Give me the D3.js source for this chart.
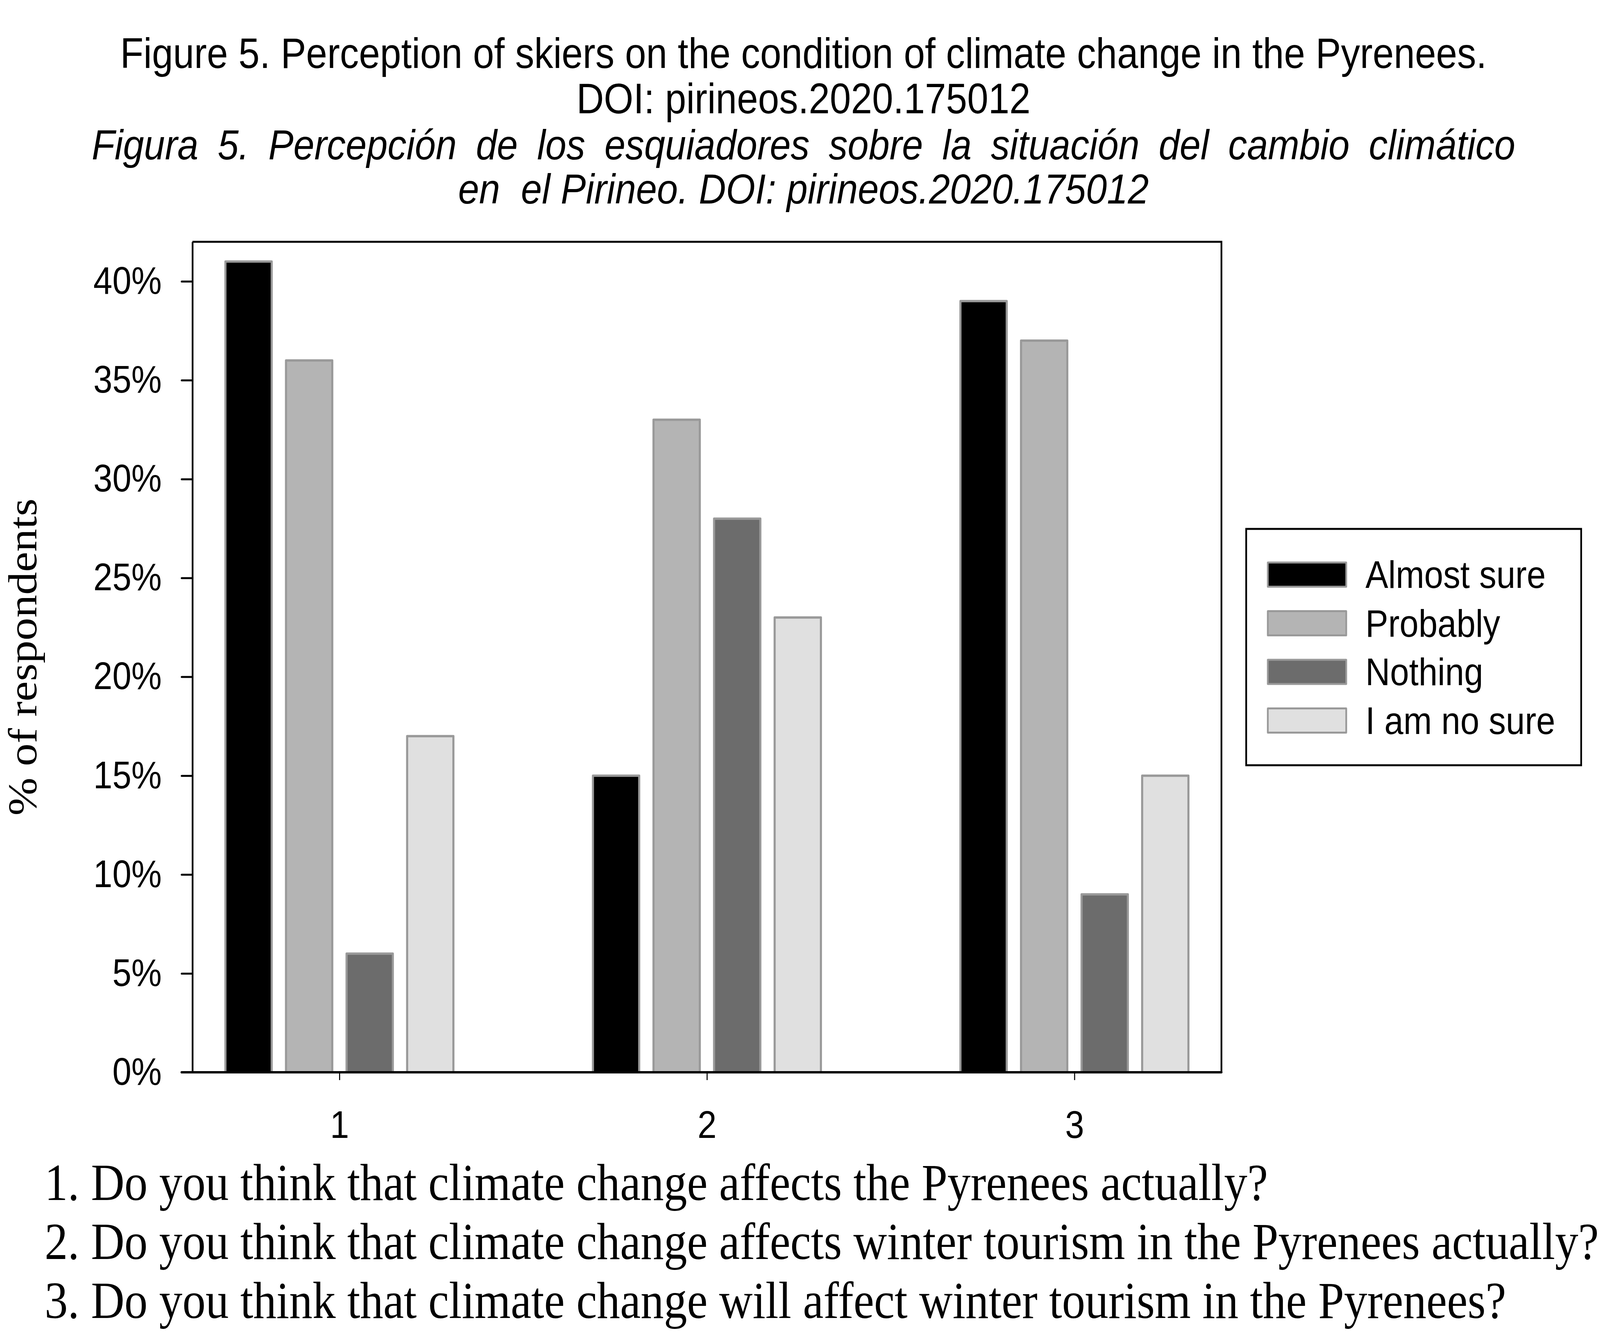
<!DOCTYPE html>
<html lang="en">
<head>
<meta charset="UTF-8">
<title>Figure 5 - Perception of skiers on climate change</title>
<script src="https://d3js.org/d3.v7.min.js"></script>
<style>
html, body {
  margin: 0;
  padding: 0;
  width: 100%;
  height: 100%;
  overflow: hidden;
  background-color: white;
}
#chart svg {
  display: block;
  width: 100vw;
  height: 100vh;
}
.sans {
  font-family: "Liberation Sans", Arial, sans-serif;
  fill: #000;
}
.serif {
  font-family: "Liberation Serif", "Times New Roman", serif;
  fill: #000;
}
</style>
</head>
<body>

<div id="chart"></div>

<script>

// --------------------------------------
// Data
// --------------------------------------

const questions = ["1", "2", "3"];
const series = ["Almost sure", "Probably", "Nothing", "I am no sure"];
const almostSure = [41, 15, 39];
const probably = [36, 33, 37];
const nothing = [6, 28, 9];
const notSure = [17, 23, 15];
const seriesValues = [almostSure, probably, nothing, notSure];
const seriesColors = ["#000000", "#b4b4b4", "#6c6c6c", "#e0e0e0"];
const yTicks = [0, 5, 10, 15, 20, 25, 30, 35, 40];

const titleLines = [
  "Figure 5. Perception of skiers on the condition of climate change in the Pyrenees.",
  "DOI: pirineos.2020.175012"
];
const subtitleLines = [
  "Figura 5. Percepción de los esquiadores sobre la situación del cambio climático",
  "en  el Pirineo. DOI: pirineos.2020.175012"
];
const footnotes = [
  "1. Do you think that climate change affects the Pyrenees actually?",
  "2. Do you think that climate change affects winter tourism in the Pyrenees actually?",
  "3. Do you think that climate change will affect winter tourism in the Pyrenees?"
];

// --------------------------------------
// Size and plot area
// --------------------------------------

const totalWidth = 4590;
const totalHeight = 3415;
const plot = {left: 552, right: 3504, top: 619, bottom: 2745};

// the window can come out narrower than asked, so the drawing is
// laid out in 4590x3415 units and stretched to whatever the window is
const svg = d3.select("#chart")
  .append("svg")
  .attr("viewBox", `0 0 ${totalWidth} ${totalHeight}`)
  .attr("preserveAspectRatio", "none");

// --------------------------------------
// Scales
// --------------------------------------

const x = d3.scalePoint()
  .domain(questions)
  .range([plot.left, plot.right])
  .padding(0.4);

const xInner = d3.scaleBand()
  .domain(series)
  .range([-327, 327])
  .paddingInner(0.236);

const y = d3.scaleLinear()
  .domain([0, 42])
  .range([plot.bottom, plot.top]);

// --------------------------------------
// Title
// --------------------------------------

svg.append("g")
  .selectAll("text")
  .data(titleLines)
  .join("text")
  .attr("class", "sans")
  .attr("x", 2305)
  .attr("y", (d, i) => 174 + i * 116)
  .attr("text-anchor", "middle")
  .attr("font-size", 109)
  .text(d => d);

const sub = svg.append("g")
  .selectAll("text")
  .data(subtitleLines)
  .join("text")
  .attr("class", "sans")
  .attr("x", 2305)
  .attr("y", (d, i) => 408 + i * 113)
  .attr("text-anchor", "middle")
  .attr("font-size", 108)
  .attr("font-style", "italic")
  .style("white-space", "pre")
  .text(d => d);

// first italic line is justified across the full width
sub.filter((d, i) => i === 0).each(function(d) {
  const target = 4084;
  const len = this.getComputedTextLength();
  const gaps = d.split(" ").length - 1;
  d3.select(this).attr("word-spacing", Math.max(0, (target - len) / gaps));
});

// --------------------------------------
// Bars
// --------------------------------------

const groups = svg.append("g")
  .selectAll("g")
  .data(questions)
  .join("g")
  .attr("transform", d => `translate(${x(d)},0)`);

groups.selectAll("rect")
  .data((q, qi) => series.map((s, si) => ({s, si, v: seriesValues[si][qi]})))
  .join("rect")
  .attr("x", d => xInner(d.s))
  .attr("y", d => y(d.v))
  .attr("width", xInner.bandwidth())
  .attr("height", d => y(0) - y(d.v))
  .attr("fill", d => seriesColors[d.si])
  .attr("stroke", "#999999")
  .attr("stroke-width", 6)
  .attr("stroke-linejoin", "round");

// --------------------------------------
// Axes and frame
// --------------------------------------

const yAxis = svg.append("g")
  .attr("transform", `translate(${plot.left},0)`)
  .call(d3.axisLeft(y)
    .tickValues(yTicks)
    .tickFormat(d => d + "%")
    .tickSize(31)
    .tickSizeOuter(0)
    .tickPadding(57));

yAxis.select(".domain").attr("stroke-width", 5);
yAxis.selectAll(".tick line").attr("stroke-width", 5).attr("stroke-linecap", "round");
yAxis.selectAll(".tick text")
  .attr("class", "sans")
  .attr("font-size", 98)
  .attr("font-family", null);

const xAxis = svg.append("g")
  .attr("transform", `translate(0,${plot.bottom})`)
  .call(d3.axisBottom(x)
    .tickSize(20)
    .tickSizeOuter(0)
    .tickPadding(78));

xAxis.select(".domain").remove();
xAxis.selectAll(".tick line").attr("stroke-width", 3);
xAxis.selectAll(".tick text")
  .attr("class", "sans")
  .attr("font-size", 98)
  .attr("font-family", null);

// top and right border
svg.append("path")
  .attr("d", d3.line()([[plot.left, plot.top], [plot.right, plot.top], [plot.right, plot.bottom]]))
  .attr("fill", "none")
  .attr("stroke", "#000")
  .attr("stroke-width", 5);

// zero line, runs out to the tick ends
svg.append("line")
  .attr("x1", plot.left - 31)
  .attr("x2", plot.right)
  .attr("y1", y(0))
  .attr("y2", y(0))
  .attr("stroke", "#000")
  .attr("stroke-width", 6)
  .attr("stroke-linecap", "round");

// y axis title
svg.append("text")
  .attr("class", "serif")
  .attr("transform", `translate(104,${(plot.top + plot.bottom) / 2}) rotate(-90)`)
  .attr("text-anchor", "middle")
  .attr("font-size", 117)
  .text("% of respondents");

// --------------------------------------
// Legend
// --------------------------------------

const legend = svg.append("g")
  .attr("transform", "translate(3575,1354)");

legend.append("rect")
  .attr("width", 961)
  .attr("height", 605)
  .attr("fill", "white")
  .attr("stroke", "#000")
  .attr("stroke-width", 5);

const items = legend.selectAll(".item")
  .data(series)
  .join("g")
  .attr("class", "item")
  .attr("transform", (d, i) => `translate(0,${86 + i * 124.5})`);

items.append("rect")
  .attr("x", 62)
  .attr("width", 225)
  .attr("height", 62)
  .attr("fill", (d, i) => seriesColors[i])
  .attr("stroke", "#999999")
  .attr("stroke-width", 5)
  .attr("stroke-linejoin", "round");

items.append("text")
  .attr("class", "sans")
  .attr("x", 342)
  .attr("y", 65)
  .attr("font-size", 98)
  .text(d => d);

// --------------------------------------
// Question notes
// --------------------------------------

svg.append("g")
  .selectAll("text")
  .data(footnotes)
  .join("text")
  .attr("class", "serif")
  .attr("x", 128)
  .attr("y", (d, i) => 3072 + i * 151)
  .attr("font-size", 133)
  .text(d => d);

</script>
</body>
</html>
